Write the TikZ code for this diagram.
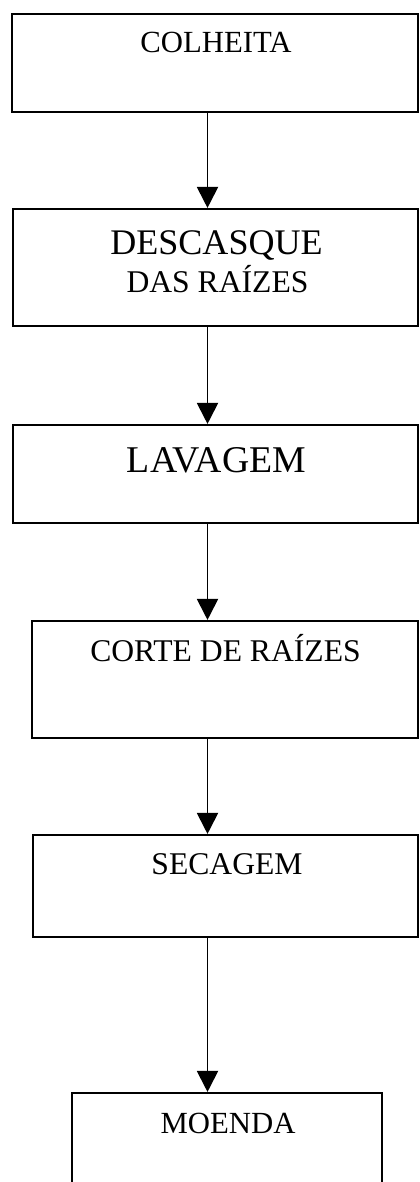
\documentclass[tikz,border=0pt]{standalone}
\usepackage{fontspec}
\setmainfont{Liberation Serif}
\usepackage{tikz}
\usetikzlibrary{arrows.meta, positioning}

\tikzset{
  stagebox/.style 2 args={draw, line width=1.2pt, inner sep=0pt,
    minimum width=#1*0.02cm, minimum height=#2*0.02cm},
  stagetext/.style={inner sep=0pt, anchor=base, align=center,
    font=\fontsize{18}{21.6}\selectfont},
  flow/.style={line width=1.1pt, -{Triangle[length=0.42cm, width=0.42cm]}}
}

\begin{document}
\begin{tikzpicture}[x=0.02cm, y=-0.02cm]
  \useasboundingbox (0,0) rectangle (419,1182);
  \clip (0,0) rectangle (419,1182);

  % stages
  \node[stagebox={406}{98}]  (colheita)  at (215,63)     {};
  \node[stagebox={405}{117}] (descasque) at (215.5,267.5) {};
  \node[stagebox={405}{98}]  (lavagem)   at (215.5,474)  {};
  \node[stagebox={386}{117}] (corte)     at (225,679.5)  {};
  \node[stagebox={385}{102}] (secagem)   at (225.5,886)  {};
  \node[stagebox={310}{120}] (moenda)    at (227,1153)   {};

  \node[stagetext, font=\fontsize{17.5}{21}\selectfont] (colheitatxt) at (216,53) {COLHEITA};
  \node[stagetext, font=\fontsize{20.5}{24}\selectfont] (descasquetxt) at (216.5,255) {DESCASQUE};
  \node[stagetext] (raizestxt) at (217.5,293) {DAS RAÍZES};
  \node[stagetext, font=\fontsize{21.5}{25}\selectfont] (lavagemtxt) at (216.5,472) {LAVAGEM};
  \node[stagetext] (cortetxt) at (225.5,661) {CORTE DE RAÍZES};
  \node[stagetext] (secagemtxt) at (227,874) {SECAGEM};
  \node[stagetext, font=\fontsize{17.5}{21}\selectfont] (moendatxt) at (228,1133) {MOENDA};

  % flow between stages
  \coordinate (flowx) at (207.5,0);
  \foreach \a/\b in {colheita/descasque, descasque/lavagem, lavagem/corte,
                     corte/secagem, secagem/moenda}
    \draw[flow] (\a.south -| flowx) -- (\b.north -| flowx);
\end{tikzpicture}
\end{document}
